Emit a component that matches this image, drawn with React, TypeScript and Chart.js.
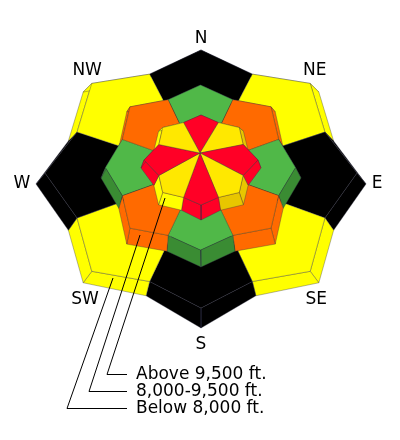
import React, { useEffect, useRef } from "react";
import { Chart, registerables } from "chart.js";

Chart.register(...registerables);

// ---------- data ----------
const DIRECTIONS = ["N", "NE", "E", "SE", "S", "SW", "W", "NW"];
const BAND_LABELS = ["Above 9,500 ft.", "8,000-9,500 ft.", "Below 8,000 ft."];
// danger level per aspect (1 low, 2 moderate, 3 considerable, 4 high, 5 extreme)
const BELOW_8000 = [5, 2, 5, 2, 5, 2, 5, 2];
const FROM_8000_TO_9500 = [1, 3, 1, 3, 1, 3, 1, 3];
const ABOVE_9500 = [4, 2, 4, 2, 4, 2, 4, 2];

// ---------- style ----------
const W = 400;
const H = 440;
const LEVEL_TOP: Record<number, string> = {
  1: "#50b848",
  2: "#ffff00",
  3: "#ff6a00",
  4: "#ff0026",
  5: "#000000",
};
const LEVEL_SIDE: Record<number, string> = {
  1: "#3a8c33",
  2: "#ffff00",
  3: "#ff6a00",
  4: "#ff0026",
  5: "#000000",
};

type Shape = {
  cx: number; cy: number; rx: number; ryUp: number; ryDown: number;
  dX: number; dY: number; bx: number; by: number;
};
type Tier = { levels: number[]; base: Shape; top: Shape; apex: [number, number] | null; innerYellow?: boolean };

const TIERS: Tier[] = [
  {
    levels: BELOW_8000,
    base: { cx: 201, cy: 184, rx: 165, ryUp: 134, ryDown: 144, dX: 1.01, dY: 0.97, bx: 0.87, by: 0.84 },
    top: { cx: 201, cy: 173, rx: 156, ryUp: 123, ryDown: 135, dX: 0.99, dY: 1.03, bx: 0.86, by: 0.87 },
    apex: null,
  },
  {
    levels: FROM_8000_TO_9500,
    base: { cx: 201, cy: 178, rx: 100, ryUp: 89, ryDown: 89, dX: 1.05, dY: 1.05, bx: 0.89, by: 0.89 },
    top: { cx: 200.5, cy: 167.5, rx: 95, ryUp: 82.5, ryDown: 82.5, dX: 1.05, dY: 1.04, bx: 0.89, by: 0.89 },
    apex: null,
  },
  {
    levels: ABOVE_9500,
    base: { cx: 201, cy: 168, rx: 60, ryUp: 52, ryDown: 52, dX: 1.0, dY: 1.0, bx: 0.85, by: 0.88 },
    top: { cx: 201, cy: 160, rx: 57, ryUp: 45, ryDown: 45, dX: 0.95, dY: 1.02, bx: 0.8, by: 0.9 },
    apex: [200, 153],
    innerYellow: true,
  },
];

const LABEL_CENTER = [201, 183];
const LABEL_DIST = [145, 161, 176, 163, 161, 164, 179, 161];
const LEADERS = [
  { from: [165, 198], elbow: [107, 374] },
  { from: [140, 235], elbow: [89, 391] },
  { from: [113, 278], elbow: [67, 408] },
];
const LEGEND_LINE_END = 127;
const LEGEND_TEXT_X = 136;

function starPoint(g: Shape, j: number) {
  const jj = ((j % 16) + 16) % 16;
  const th = (jj * Math.PI) / 8;
  const isTip = jj % 2 === 0;
  const diag = isTip && (jj / 2) % 2 === 1;
  const fx = isTip ? (diag ? g.dX : 1) : g.bx;
  const fy = isTip ? (diag ? g.dY : 1) : g.by;
  const c = Math.cos(th);
  const ry = c > 0 ? g.ryUp : g.ryDown;
  return { x: g.cx + g.rx * fx * Math.sin(th), y: g.cy - ry * fy * c };
}

function buildDatasets() {
  const polys: { pts: { x: number; y: number }[]; fill: string }[] = [];
  TIERS.forEach((tier) => {
    // side faces
    tier.levels.forEach((lvl, i) => {
      [
        [2 * i - 1, 2 * i],
        [2 * i, 2 * i + 1],
      ].forEach(([a, b]) => {
        const ba = starPoint(tier.base, a);
        const bb = starPoint(tier.base, b);
        const ta = starPoint(tier.top, a);
        const tb = starPoint(tier.top, b);
        let col = LEVEL_SIDE[lvl];
        if (tier.innerYellow && lvl === 2) {
          const nx = (ba.x + bb.x) / 2 - tier.base.cx;
          col = nx > 0 ? "#e8c600" : "#ffff00";
        }
        polys.push({ pts: [ba, bb, tb, ta, ba], fill: col });
      });
    });
    // top faces
    tier.levels.forEach((lvl, i) => {
      const c = tier.apex ? { x: tier.apex[0], y: tier.apex[1] } : { x: tier.top.cx, y: tier.top.cy };
      const p1 = starPoint(tier.top, 2 * i - 1);
      const p2 = starPoint(tier.top, 2 * i);
      const p3 = starPoint(tier.top, 2 * i + 1);
      let col = LEVEL_TOP[lvl];
      if (tier.innerYellow && lvl === 2) col = "#ffe800";
      polys.push({ pts: [c, p1, p2, p3, c], fill: col });
    });
  });
  const n = polys.length;
  return polys.map((p, k) => ({
    data: p.pts,
    showLine: true,
    fill: "shape",
    backgroundColor: p.fill,
    borderColor: "rgba(50,50,70,0.35)",
    borderWidth: 1,
    pointRadius: 0,
    tension: 0,
    order: n - k,
  }));
}

const labelPlugin = {
  id: "roseLabels",
  afterDraw(chart: any) {
    const ctx = chart.ctx as CanvasRenderingContext2D;
    const xs = chart.scales.x;
    const ys = chart.scales.y;
    const px = (v: number) => xs.getPixelForValue(v);
    const py = (v: number) => ys.getPixelForValue(v);
    ctx.save();
    ctx.fillStyle = "#000";
    ctx.font = '17px "DejaVu Sans"';
    ctx.textAlign = "center";
    ctx.textBaseline = "middle";
    DIRECTIONS.forEach((d, i) => {
      const th = (i * Math.PI) / 4;
      const x = LABEL_CENTER[0] + LABEL_DIST[i] * Math.sin(th);
      const y = LABEL_CENTER[1] - LABEL_DIST[i] * Math.cos(th);
      ctx.fillText(d, px(x), py(y) + 1);
    });
    ctx.strokeStyle = "#000";
    ctx.lineWidth = 1;
    LEADERS.forEach((l) => {
      ctx.beginPath();
      ctx.moveTo(px(l.from[0]), py(l.from[1]));
      ctx.lineTo(px(l.elbow[0]), py(l.elbow[1]) + 0.5);
      ctx.lineTo(px(LEGEND_LINE_END), py(l.elbow[1]) + 0.5);
      ctx.stroke();
    });
    ctx.textAlign = "left";
    BAND_LABELS.forEach((t, i) => {
      ctx.fillText(t, px(LEGEND_TEXT_X), py(LEADERS[i].elbow[1]) + 1);
    });
    ctx.restore();
  },
};

export default function App() {
  const ref = useRef<HTMLCanvasElement | null>(null);
  useEffect(() => {
    if (!ref.current) return;
    const chart = new Chart(ref.current, {
      type: "scatter",
      data: { datasets: buildDatasets() as any },
      options: {
        responsive: false,
        animation: false,
        events: [],
        layout: { padding: 0 },
        plugins: { legend: { display: false }, tooltip: { enabled: false } },
        scales: {
          x: { type: "linear", min: 0, max: W, display: false },
          y: { type: "linear", min: 0, max: H, reverse: true, display: false },
        },
      },
      plugins: [labelPlugin],
    });
    return () => chart.destroy();
  }, []);
  return (
    <div style={{ position: "absolute", left: 0, top: 0, width: W, height: H, background: "#fff" }}>
      <canvas ref={ref} width={W} height={H} />
    </div>
  );
}
